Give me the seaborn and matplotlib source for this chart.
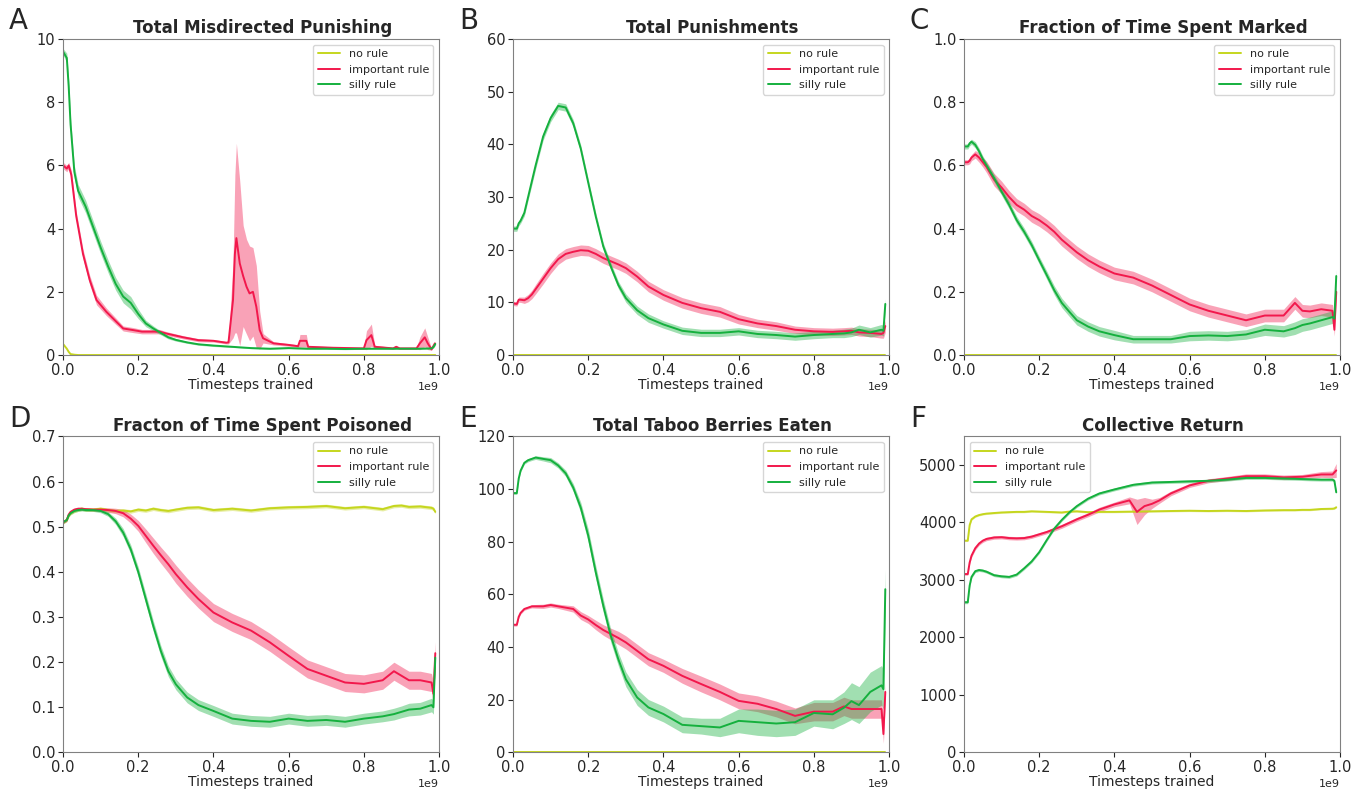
import numpy as np
import matplotlib
matplotlib.use("Agg")
import matplotlib.pyplot as plt
import seaborn as sns

# shared x grid (fraction of 1e9 timesteps)
steps = [0, 0.01, 0.015, 0.02, 0.03, 0.04, 0.05, 0.06, 0.08, 0.1, 0.12, 0.14, 0.16, 0.18, 0.2,
         0.22, 0.24, 0.26, 0.28, 0.3, 0.33, 0.36, 0.4, 0.45, 0.5, 0.55, 0.6, 0.65, 0.7, 0.75,
         0.8, 0.85, 0.88, 0.9, 0.92, 0.95, 0.98, 0.985, 0.99]
zeros = [0.0] * len(steps)

# A - Total Misdirected Punishing
a_none = [0.35, 0.2, 0.1, 0.03, 0.01, 0, 0, 0, 0, 0, 0, 0, 0, 0, 0, 0, 0, 0, 0, 0,
          0, 0, 0, 0, 0, 0, 0, 0, 0, 0, 0, 0, 0, 0, 0, 0, 0, 0, 0]
a_silly = [9.6, 9.4, 8.5, 7.3, 5.8, 5.2, 4.95, 4.7, 4.05, 3.4, 2.8, 2.25, 1.85, 1.65, 1.3,
           1.0, 0.84, 0.7, 0.56, 0.48, 0.4, 0.34, 0.3, 0.26, 0.22, 0.2, 0.22, 0.2, 0.2, 0.19,
           0.2, 0.2, 0.2, 0.2, 0.2, 0.2, 0.21, 0.25, 0.35]
a_silly_ci = [0.1, 0.15, 0.2, 0.2, 0.2, 0.2, 0.2, 0.2, 0.2, 0.2, 0.2, 0.2, 0.2, 0.2, 0.15,
              0.1, 0.08, 0.06, 0.05, 0.04, 0.03, 0.03, 0.03, 0.02, 0.02, 0.02, 0.02, 0.02, 0.02, 0.02,
              0.02, 0.02, 0.02, 0.02, 0.02, 0.02, 0.02, 0.03, 0.05]
steps_a_imp = [0, 0.01, 0.015, 0.022, 0.035, 0.053, 0.071, 0.089, 0.115, 0.142, 0.16, 0.186, 0.21,
               0.257, 0.275, 0.32, 0.36, 0.4, 0.434, 0.44, 0.452, 0.457, 0.461, 0.47, 0.479, 0.488,
               0.496, 0.505, 0.514, 0.523, 0.532, 0.56, 0.6, 0.625, 0.63, 0.647, 0.652, 0.718, 0.8,
               0.807, 0.82, 0.829, 0.878, 0.886, 0.895, 0.94, 0.949, 0.962, 0.97, 0.98, 0.989]
a_imp = [6.0, 5.9, 6.0, 5.7, 4.4, 3.2, 2.37, 1.74, 1.37, 1.05, 0.84, 0.79, 0.74,
         0.74, 0.68, 0.56, 0.47, 0.45, 0.39, 0.4, 1.74, 3.2, 3.7, 2.9, 2.5, 2.16,
         1.95, 2.0, 1.53, 0.79, 0.53, 0.37, 0.32, 0.28, 0.45, 0.45, 0.26, 0.23, 0.21,
         0.47, 0.63, 0.26, 0.21, 0.26, 0.21, 0.21, 0.37, 0.56, 0.37, 0.18, 0.37]
a_imp_ci = [0.1, 0.1, 0.1, 0.15, 0.15, 0.15, 0.15, 0.15, 0.12, 0.1, 0.08, 0.08, 0.07,
            0.07, 0.06, 0.05, 0.05, 0.04, 0.04, 0.05, 1.2, 2.5, 3.0, 2.6, 1.6, 1.5,
            1.5, 1.4, 1.3, 0.6, 0.15, 0.05, 0.04, 0.04, 0.2, 0.2, 0.04, 0.03, 0.03,
            0.3, 0.35, 0.05, 0.03, 0.05, 0.03, 0.03, 0.2, 0.3, 0.2, 0.03, 0.05]

# B - Total Punishments
b_silly = [24, 24, 25, 25.5, 27, 30, 33, 36, 41.5, 45, 47.3, 47, 44, 39.2, 32.7,
           26.3, 20.6, 16.8, 13.3, 10.8, 8.5, 7.0, 5.8, 4.6, 4.2, 4.2, 4.5, 4.0, 3.8, 3.5,
           3.8, 4.0, 4.1, 4.3, 4.8, 4.3, 4.8, 4.6, 9.7]
b_silly_ci = [0.5, 0.5, 0.5, 0.5, 0.6, 0.6, 0.7, 0.7, 0.7, 0.7, 0.7, 0.7, 0.7, 0.7, 0.7,
              0.7, 0.7, 0.7, 0.7, 0.8, 0.8, 0.8, 0.7, 0.7, 0.7, 0.7, 0.7, 0.7, 0.7, 0.7,
              0.7, 0.7, 0.8, 0.8, 0.9, 0.9, 1.0, 1.0, 1.0]
b_imp = [9.8, 9.7, 10.5, 10.5, 10.4, 10.8, 11.5, 12.5, 14.5, 16.5, 18.2, 19.2, 19.6, 19.9, 19.8,
         19.2, 18.4, 17.8, 17.2, 16.5, 14.9, 13.0, 11.4, 9.9, 8.9, 8.2, 6.8, 6.0, 5.5, 4.8,
         4.5, 4.4, 4.5, 4.6, 4.3, 4.2, 4.0, 4.2, 5.5]
b_imp_ci = [0.4, 0.4, 0.5, 0.5, 0.6, 0.7, 0.8, 0.9, 1.0, 1.0, 1.0, 1.0, 1.0, 1.0, 1.0,
            1.0, 1.0, 1.0, 1.0, 1.0, 1.0, 1.0, 1.0, 1.0, 1.0, 1.0, 0.9, 0.8, 0.8, 0.7,
            0.7, 0.7, 0.7, 0.7, 0.7, 0.7, 0.8, 1.0, 1.2]

# C - Fraction of Time Spent Marked
c_silly = [0.66, 0.66, 0.67, 0.675, 0.665, 0.645, 0.62, 0.6, 0.56, 0.517, 0.475, 0.427, 0.39, 0.348, 0.3,
           0.253, 0.205, 0.165, 0.137, 0.11, 0.09, 0.075, 0.063, 0.05, 0.05, 0.05, 0.06, 0.062, 0.06, 0.065,
           0.08, 0.075, 0.085, 0.095, 0.1, 0.11, 0.12, 0.115, 0.25]
c_silly_ci = [0.008, 0.008, 0.008, 0.008, 0.01, 0.01, 0.01, 0.01, 0.012, 0.012, 0.012, 0.012, 0.012, 0.012, 0.012,
              0.013, 0.014, 0.015, 0.015, 0.015, 0.015, 0.015, 0.015, 0.012, 0.012, 0.012, 0.015, 0.015, 0.015, 0.015,
              0.018, 0.018, 0.02, 0.02, 0.02, 0.02, 0.02, 0.02, 0.02]
c_imp = [0.61, 0.61, 0.615, 0.625, 0.635, 0.625, 0.61, 0.595, 0.555, 0.53, 0.5, 0.475, 0.46, 0.44, 0.427,
         0.41, 0.39, 0.365, 0.345, 0.325, 0.3, 0.28, 0.258, 0.245, 0.22, 0.19, 0.16, 0.14, 0.125, 0.11,
         0.125, 0.125, 0.165, 0.14, 0.138, 0.145, 0.14, 0.08, 0.2]
c_imp_ci = [0.008, 0.008, 0.01, 0.01, 0.012, 0.015, 0.015, 0.018, 0.02, 0.02, 0.02, 0.02, 0.02, 0.02, 0.02,
            0.02, 0.02, 0.02, 0.02, 0.02, 0.02, 0.02, 0.02, 0.02, 0.02, 0.02, 0.02, 0.02, 0.02, 0.02,
            0.02, 0.02, 0.02, 0.02, 0.02, 0.02, 0.02, 0.02, 0.02]

# D - Fraction of Time Spent Poisoned
d_none = [0.51, 0.515, 0.525, 0.53, 0.535, 0.538, 0.54, 0.538, 0.538, 0.54, 0.537, 0.535, 0.536, 0.534, 0.538,
          0.536, 0.54, 0.537, 0.535, 0.538, 0.542, 0.543, 0.537, 0.54, 0.536, 0.541, 0.543, 0.544, 0.546, 0.541,
          0.544, 0.539, 0.546, 0.547, 0.544, 0.545, 0.542, 0.54, 0.533]
d_none_ci = [0.004] * len(steps)
d_silly = [0.51, 0.515, 0.525, 0.53, 0.535, 0.537, 0.538, 0.537, 0.537, 0.535, 0.528, 0.512, 0.487, 0.45, 0.4,
           0.34, 0.28, 0.225, 0.18, 0.151, 0.122, 0.105, 0.092, 0.075, 0.07, 0.068, 0.075, 0.07, 0.072, 0.068,
           0.075, 0.08, 0.085, 0.09, 0.095, 0.097, 0.105, 0.1, 0.21]
d_silly_ci = [0.003, 0.003, 0.003, 0.003, 0.003, 0.003, 0.003, 0.003, 0.003, 0.004, 0.005, 0.007, 0.009, 0.01, 0.011,
              0.012, 0.012, 0.012, 0.012, 0.012, 0.012, 0.012, 0.012, 0.012, 0.012, 0.012, 0.012, 0.012, 0.012, 0.012,
              0.012, 0.012, 0.013, 0.013, 0.014, 0.014, 0.015, 0.015, 0.015]
d_imp = [0.51, 0.515, 0.527, 0.533, 0.538, 0.54, 0.54, 0.539, 0.538, 0.538, 0.537, 0.535, 0.53, 0.518, 0.502,
         0.48, 0.458, 0.437, 0.417, 0.395, 0.366, 0.34, 0.31, 0.288, 0.27, 0.244, 0.214, 0.185, 0.17, 0.155,
         0.152, 0.16, 0.18, 0.17, 0.16, 0.16, 0.155, 0.13, 0.22]
d_imp_ci = [0.003, 0.003, 0.003, 0.003, 0.003, 0.003, 0.003, 0.003, 0.003, 0.004, 0.005, 0.006, 0.008, 0.01, 0.012,
            0.015, 0.017, 0.018, 0.019, 0.02, 0.02, 0.02, 0.02, 0.02, 0.02, 0.02, 0.02, 0.02, 0.02, 0.02,
            0.02, 0.02, 0.02, 0.02, 0.02, 0.02, 0.02, 0.025, 0.025]

# E - Total Taboo Berries Eaten
e_silly = [98.5, 98.5, 104, 107, 110, 111, 111.5, 112, 111.5, 111, 109, 106, 100.6, 93, 82.3,
           68.4, 55.7, 44.3, 35.4, 27.8, 20.9, 17.1, 14.6, 10.5, 10, 9.5, 12, 11.5, 11, 11.5,
           15, 14.5, 17, 19.5, 18, 23, 25.5, 24, 62]
e_silly_ci = [0.5, 0.5, 0.5, 0.5, 0.5, 0.6, 0.6, 0.7, 0.8, 1.0, 1.0, 1.2, 1.5, 2.0, 2.5,
              2.5, 2.5, 2.5, 2.5, 2.8, 3.0, 3.0, 3.0, 3.0, 3.0, 3.5, 4.5, 5.0, 5.0, 5.0,
              5.0, 5.5, 6.0, 7.0, 7.0, 7.5, 7.5, 7.5, 7.5]
e_imp = [48.5, 48.5, 51.5, 53, 54.5, 55, 55.5, 55.5, 55.5, 56, 55.5, 55, 54.5, 52, 50.5,
         48.4, 46.5, 45, 43.5, 41.8, 38.6, 35.4, 32.9, 29.1, 26, 23, 19.6, 18.5, 16.5, 13.9,
         15.5, 15.5, 17.5, 16.5, 16.5, 16.5, 16.5, 7, 23]
e_imp_ci = [0.5, 0.5, 0.5, 0.5, 0.5, 0.5, 0.6, 0.7, 0.8, 0.8, 0.8, 1.0, 1.2, 1.5, 1.5,
            1.8, 2.0, 2.2, 2.5, 2.5, 2.5, 2.5, 2.5, 2.8, 3.0, 3.0, 3.0, 3.0, 3.0, 3.0,
            3.5, 3.5, 3.5, 3.5, 3.5, 3.5, 3.5, 3.5, 3.5]

# F - Collective Return
f_none = [3680, 3680, 3950, 4050, 4100, 4125, 4140, 4150, 4160, 4170, 4175, 4180, 4180, 4190, 4185,
          4180, 4175, 4170, 4185, 4190, 4175, 4180, 4180, 4185, 4190, 4195, 4200, 4195, 4200, 4195,
          4205, 4210, 4210, 4215, 4215, 4230, 4235, 4240, 4260]
f_none_ci = [15] * len(steps)
f_silly = [2610, 2610, 2900, 3050, 3150, 3170, 3160, 3140, 3080, 3060, 3050, 3090, 3200, 3320, 3480,
           3690, 3890, 4040, 4170, 4280, 4410, 4500, 4570, 4650, 4690, 4700, 4710, 4720, 4740, 4770,
           4770, 4760, 4755, 4750, 4745, 4740, 4740, 4720, 4520]
f_silly_ci = [25] * len(steps)
steps_f_imp = [0, 0.01, 0.015, 0.02, 0.03, 0.04, 0.05, 0.06, 0.08, 0.1, 0.12, 0.14, 0.16, 0.18, 0.2,
               0.22, 0.24, 0.26, 0.28, 0.3, 0.33, 0.36, 0.4, 0.44, 0.46, 0.48, 0.5, 0.52, 0.55, 0.6,
               0.65, 0.7, 0.75, 0.8, 0.85, 0.9, 0.95, 0.98, 0.99]
f_imp = [3100, 3100, 3300, 3420, 3550, 3630, 3680, 3710, 3735, 3740, 3725, 3720, 3725, 3750, 3790,
         3830, 3880, 3930, 3990, 4050, 4130, 4220, 4310, 4380, 4180, 4280, 4320, 4380, 4500, 4640,
         4720, 4760, 4800, 4800, 4780, 4790, 4830, 4830, 4900]
f_imp_ci = [20, 20, 25, 30, 30, 30, 30, 30, 30, 30, 30, 30, 30, 30, 30,
            30, 35, 35, 35, 35, 35, 40, 40, 60, 220, 150, 80, 50, 40, 35,
            35, 35, 40, 40, 40, 40, 50, 60, 120]

labels = ["no rule", "important rule", "silly rule"]
colors = ["#c5d61e", "#f2184c", "#15b03e"]

panels = [
    ("A", "Total Misdirected Punishing", 10, [(steps, a_none, zeros), (steps_a_imp, a_imp, a_imp_ci), (steps, a_silly, a_silly_ci)], "upper right"),
    ("B", "Total Punishments", 60, [(steps, zeros, zeros), (steps, b_imp, b_imp_ci), (steps, b_silly, b_silly_ci)], "upper right"),
    ("C", "Fraction of Time Spent Marked", 1.0, [(steps, zeros, zeros), (steps, c_imp, c_imp_ci), (steps, c_silly, c_silly_ci)], "upper right"),
    ("D", "Fracton of Time Spent Poisoned", 0.7, [(steps, d_none, d_none_ci), (steps, d_imp, d_imp_ci), (steps, d_silly, d_silly_ci)], "upper right"),
    ("E", "Total Taboo Berries Eaten", 120, [(steps, zeros, zeros), (steps, e_imp, e_imp_ci), (steps, e_silly, e_silly_ci)], "upper right"),
    ("F", "Collective Return", 5490, [(steps, f_none, f_none_ci), (steps_f_imp, f_imp, f_imp_ci), (steps, f_silly, f_silly_ci)], "upper left"),
]

sns.set_style("ticks")
plt.rcParams["font.family"] = ["DejaVu Sans"]

fig = plt.figure(figsize=(13.53, 7.9), dpi=100)

lefts = [0.0466, 0.3792, 0.7125]
bottoms = [0.5506, 0.0475]
w, h = 0.2779, 0.40

for i, (letter, title, ytop, series, loc) in enumerate(panels):
    r, c = divmod(i, 3)
    ax = fig.add_axes([lefts[c], bottoms[r], w, h])
    for (xs, m, ci), lab, col in zip(series, labels, colors):
        x = np.array(xs) * 1e9
        m = np.array(m, dtype=float)
        ci = np.array(ci, dtype=float)
        ax.fill_between(x, m - ci, m + ci, color=col, alpha=0.4, lw=0)
        sns.lineplot(x=x, y=m, ax=ax, color=col, label=lab, lw=1.4)
    ax.set_xlim(0, 1e9)
    ax.set_ylim(0, ytop)
    ax.set_title(title, fontsize=12, fontweight="bold", x=0.53, pad=4)
    ax.set_xlabel("Timesteps trained", fontsize=10, labelpad=0)
    ax.set_ylabel("")
    ax.tick_params(labelsize=10.5, length=3.5, pad=2)
    ax.xaxis.get_offset_text().set_fontsize(8)
    for s in ax.spines.values():
        s.set_color("#808080")
    ax.legend(loc=loc, fontsize=8, frameon=True)
    fig.text(lefts[c] - 0.04, bottoms[r] + h + 0.005, letter, fontsize=20, va="bottom", ha="left")

fig.savefig("out.png", dpi=100)
